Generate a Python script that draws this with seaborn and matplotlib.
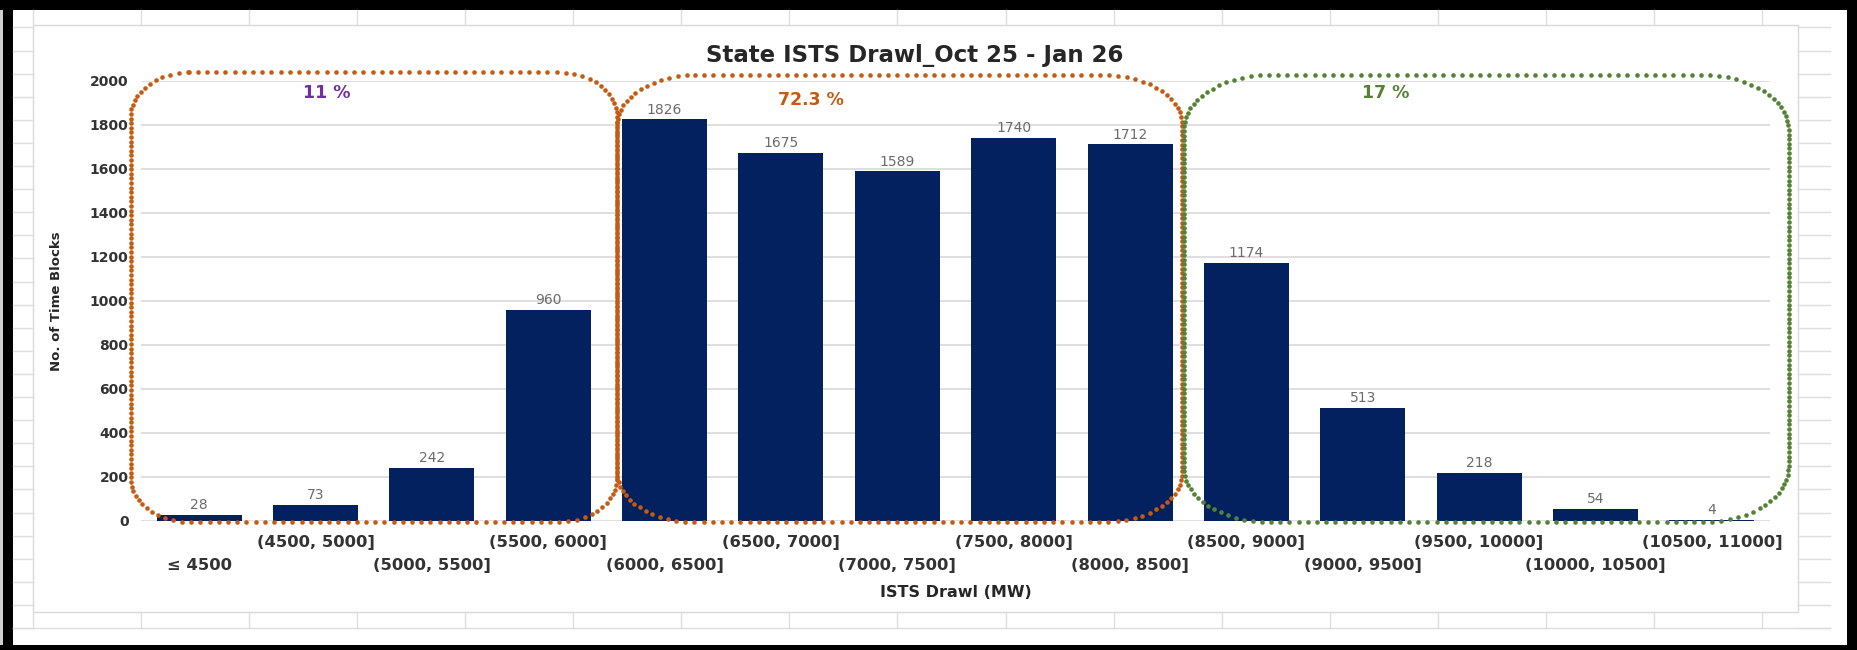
import numpy as np
import pandas as pd
import matplotlib
matplotlib.use("Agg")
import matplotlib.pyplot as plt
import matplotlib.patches as mpatches
import seaborn as sns

# ---------------- data ----------------
categories = ["≤ 4500", "(4500, 5000]", "(5000, 5500]", "(5500, 6000]", "(6000, 6500]",
              "(6500, 7000]", "(7000, 7500]", "(7500, 8000]", "(8000, 8500]", "(8500, 9000]",
              "(9000, 9500]", "(9500, 10000]", "(10000, 10500]", "(10500, 11000]"]
time_blocks = [28, 73, 242, 960, 1826, 1675, 1589, 1740, 1712, 1174, 513, 218, 54, 4]
y_ticks = [0, 200, 400, 600, 800, 1000, 1200, 1400, 1600, 1800, 2000]
group_labels = ["11 %", "72.3 %", "17 %"]
group_first = [0, 4, 9]
group_last = [3, 8, 13]
chart_title = "State ISTS Drawl_Oct 25 - Jan 26"
x_title = "ISTS Drawl (MW)"
y_title = "No. of Time Blocks"

# ---------------- layout / style ----------------
W, H = 1858, 650
AX_L, AX_R, AX_T, AX_B = 141, 1770, 81, 521
BAR_COLOR = "#03205f"
box_colors = ["#C55A11", "#C55A11", "#548235"]
label_colors = ["#7030A0", "#C55A11", "#548235"]
box_pad_left = [0.59, 0.41, 0.54]
box_pad_right = [0.59, 0.45, 0.66]
box_top = [2040, 2027, 2027]
box_rx = [58, 78, 85]
box_ry = [45, 50, 55]
label_x = [1.10, 5.26, 10.2]
label_y = [1945, 1914, 1945]

df = pd.DataFrame({"range": categories, "blocks": time_blocks})

fig = plt.figure(figsize=(W / 100, H / 100), dpi=100)
fig.patch.set_facecolor("white")

# ---- spreadsheet background (decorative) ----
bg = fig.add_axes([0, 0, 1, 1])
bg.set_xlim(0, W)
bg.set_ylim(H, 0)
bg.axis("off")
cell_c = "#DEDEDE"
col_x = 33 + 108.06 * np.arange(17)
for x in col_x:
    bg.plot([x, x], [10, 25], color=cell_c, lw=1)
    bg.plot([x, x], [612, 628], color=cell_c, lw=1)
row_y = 628 - 23.1 * np.arange(27)
for y in row_y:
    if y > 12:
        bg.plot([13, 33], [y, y], color=cell_c, lw=1)
        bg.plot([1798, 1830], [y, y], color=cell_c, lw=1)
bg.plot([13, 1830], [628, 628], color=cell_c, lw=1)
bg.add_patch(mpatches.Rectangle((33, 25), 1798 - 33, 612 - 25, facecolor="white",
                                edgecolor="#D9D9D9", lw=1))
# black screenshot frame
bg.add_patch(mpatches.Rectangle((0, 0), 3, H, facecolor="#cfcfcf", edgecolor="none"))
for (x, y, w, h) in [(3, 0, 10, H), (0, 0, W, 10), (1847, 0, W - 1847, H), (0, 645, W, 5)]:
    bg.add_patch(mpatches.Rectangle((x, y), w, h, facecolor="black", edgecolor="none"))

# ---- main chart ----
ax = fig.add_axes([AX_L / W, 1 - AX_B / H, (AX_R - AX_L) / W, (AX_B - AX_T) / H])
ax.patch.set_visible(False)
sns.barplot(data=df, x="range", y="blocks", color=BAR_COLOR, saturation=1, width=0.73,
            linewidth=0, ax=ax, zorder=2)
ax.set_xlim(-0.5, len(categories) - 0.5)
ax.set_ylim(0, 2000)
for s in ax.spines.values():
    s.set_visible(False)
ax.set_axisbelow(True)
ax.yaxis.grid(True, color="#D9D9D9", lw=1.2)
ax.xaxis.grid(False)

ax.set_yticks(y_ticks)
ax.set_yticklabels([str(v) for v in y_ticks], fontsize=10, fontweight="bold", color="#333333")
ax.tick_params(axis="y", length=0, pad=9)
ax.set_xticks(range(len(categories)))
ax.set_xticklabels(categories, fontsize=11.8, fontweight="bold", color="#333333")
ax.tick_params(axis="x", length=0)
for i, t in enumerate(ax.xaxis.get_major_ticks()):
    t.set_pad(26.5 if i % 2 == 0 else 10.0)

ax.set_xlabel(x_title, fontsize=11.5, fontweight="bold", color="#262626")
ax.xaxis.set_label_coords(0.5, -0.145)
ax.set_ylabel(y_title, fontsize=9.5, fontweight="bold", color="#262626")
ax.yaxis.set_label_coords(-0.048, 0.5)
ax.set_title(chart_title, fontsize=16.5, fontweight="bold", color="#262626",
             x=0.475, y=1.025)

ax.bar_label(ax.containers[0], labels=[str(v) for v in time_blocks], padding=2,
             fontsize=10, color="#6b6b6b")

# ---- dotted rounded boxes around the groups ----
def rounded_rect_points(x0, y0, x1, y1, rx, ry, n=60):
    pts = []
    t = np.linspace(0, 1, n)
    pts.append(np.c_[x0 + rx + (x1 - x0 - 2 * rx) * t, np.full(n, y1)])
    a = np.linspace(np.pi / 2, 0, n)
    pts.append(np.c_[x1 - rx + rx * np.cos(a), y1 - ry + ry * np.sin(a)])
    pts.append(np.c_[np.full(n, x1), y1 - ry - (y1 - y0 - 2 * ry) * t])
    a = np.linspace(0, -np.pi / 2, n)
    pts.append(np.c_[x1 - rx + rx * np.cos(a), y0 + ry + ry * np.sin(a)])
    pts.append(np.c_[x1 - rx - (x1 - x0 - 2 * rx) * t, np.full(n, y0)])
    a = np.linspace(-np.pi / 2, -np.pi, n)
    pts.append(np.c_[x0 + rx + rx * np.cos(a), y0 + ry + ry * np.sin(a)])
    pts.append(np.c_[np.full(n, x0), y0 + ry + (y1 - y0 - 2 * ry) * t])
    a = np.linspace(np.pi, np.pi / 2, n)
    pts.append(np.c_[x0 + rx + rx * np.cos(a), y1 - ry + ry * np.sin(a)])
    return np.vstack(pts)

for g in range(len(group_labels)):
    (px0, py0) = ax.transData.transform((group_first[g] - box_pad_left[g], 0))
    (px1, py1) = ax.transData.transform((group_last[g] + box_pad_right[g], box_top[g]))
    pts = rounded_rect_points(px0, py0 - 1, px1, py1, box_rx[g], box_ry[g])
    d = np.hypot(np.diff(pts[:, 0]) / 2.0, np.diff(pts[:, 1]))
    s = np.r_[0, np.cumsum(d)]
    ss = np.arange(0, s[-1], 4.6)
    dots = np.c_[np.interp(ss, s, pts[:, 0]), np.interp(ss, s, pts[:, 1])]
    dd = ax.transData.inverted().transform(dots)
    ax.plot(dd[:, 0], dd[:, 1], "o", ms=3.3, color=box_colors[g], mec="none",
            clip_on=False, zorder=5)
    ax.text(label_x[g], label_y[g], group_labels[g], ha="center", va="center",
            fontsize=12.5, fontweight="bold", color=label_colors[g], zorder=6)

fig.savefig("out.png", dpi=100)
